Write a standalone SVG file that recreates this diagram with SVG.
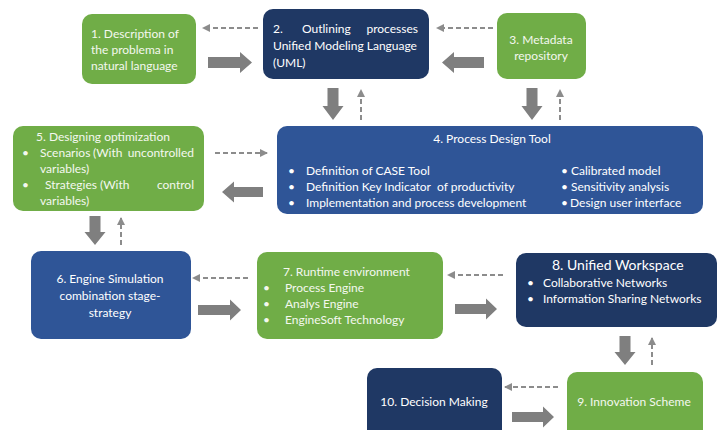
<svg xmlns="http://www.w3.org/2000/svg" width="718" height="430" viewBox="0 0 718 430">
<style>
.green{fill:#70ad47}
.navy{fill:#1f3864}
.blue{fill:#2f5597}
text{font-family:Lato,"Open Sans","Liberation Sans",sans-serif;font-size:12px;fill:#ffffff}
.g text{fill:#f4f8ef}
.c{text-anchor:middle}
.e{text-anchor:end}
.big{font-size:14px}
.thick{fill:#7f7f7f}
.dash{stroke:#8c8c8c;stroke-width:2;stroke-dasharray:5 3;fill:none;marker-end:url(#ah)}
</style>
<defs>
<marker id="ah" viewBox="0 0 8 8" refX="7" refY="4" markerWidth="4" markerHeight="4" orient="auto" markerUnits="strokeWidth">
<path d="M0,0 L8,4 L0,8 Z" fill="#8c8c8c"/>
</marker>
</defs>
<rect width="718" height="430" fill="#ffffff"/>

<g id="node1" class="g">
<rect class="green" x="82" y="14" width="114" height="70" rx="10"/>
<text x="91" y="38">1. Description of</text>
<text x="91" y="54">the problema in</text>
<text x="91" y="70">natural language</text>
</g>

<g id="node2">
<rect class="navy" x="263" y="9" width="166" height="70" rx="10"/>
<text x="273" y="33">2.</text>
<text x="302" y="33">Outlining</text>
<text class="e" x="418" y="33">processes</text>
<text x="273" y="50">Unified Modeling Language</text>
<text x="273" y="67">(UML)</text>
</g>

<g id="node3" class="g">
<rect class="green" x="497" y="13" width="89" height="66" rx="10"/>
<text class="c" x="541" y="44">3. Metadata</text>
<text class="c" x="541" y="60">repository</text>
</g>

<g id="node4">
<rect class="blue" x="277" y="126" width="426" height="88" rx="10"/>
<text class="c" x="492" y="143">4. Process Design Tool</text>
<text x="288" y="175">•</text>
<text x="306" y="175">Definition of CASE Tool</text>
<text x="288" y="191">•</text>
<text x="306" y="191">Definition Key Indicator</text>
<text x="437" y="191">of productivity</text>
<text x="288" y="207">•</text>
<text x="306" y="207">Implementation and process development</text>
<text x="561" y="175">•</text>
<text x="571" y="175">Calibrated model</text>
<text x="561" y="191">•</text>
<text x="571" y="191">Sensitivity analysis</text>
<text x="561" y="207">•</text>
<text x="570" y="207">Design user interface</text>
</g>

<g id="node5" class="g">
<rect class="green" x="13" y="126" width="191" height="85" rx="10"/>
<text class="c" x="103" y="141">5. Designing optimization</text>
<text x="22" y="157">•</text>
<text x="40" y="157">Scenarios</text>
<text x="93" y="157">(With</text>
<text class="e" x="194" y="157">uncontrolled</text>
<text x="40" y="173">variables)</text>
<text x="22" y="189">•</text>
<text x="45" y="189">Strategies</text>
<text x="100" y="189">(With</text>
<text class="e" x="194" y="189">control</text>
<text x="40" y="205">variables)</text>
</g>

<g id="node6">
<rect class="blue" x="31" y="251" width="160" height="88" rx="10"/>
<text class="c" x="110" y="283">6. Engine Simulation</text>
<text class="c" x="110" y="300">combination stage-</text>
<text class="c" x="110" y="317">strategy</text>
</g>

<g id="node7" class="g">
<rect class="green" x="257" y="252" width="186" height="87" rx="10"/>
<text x="283" y="276">7. Runtime environment</text>
<text x="263" y="292">•</text>
<text x="285" y="292">Process Engine</text>
<text x="263" y="308">•</text>
<text x="285" y="308">Analys Engine</text>
<text x="263" y="324">•</text>
<text x="285" y="324">EngineSoft Technology</text>
</g>

<g id="node8">
<rect class="navy" x="516" y="253" width="201" height="74" rx="10"/>
<text class="big" x="552" y="270">8. Unified Workspace</text>
<text x="527" y="287">•</text>
<text x="543" y="287">Collaborative Networks</text>
<text x="527" y="303">•</text>
<text x="543" y="303">Information Sharing Networks</text>
</g>

<g id="node9" class="g">
<rect class="green" x="567" y="372" width="136" height="72" rx="10"/>
<text class="c" x="634" y="406">9. Innovation Scheme</text>
</g>

<g id="node10">
<rect class="navy" x="367" y="368" width="135" height="72" rx="10"/>
<text class="c" x="434" y="406">10. Decision Making</text>
</g>

<g id="connectors">
<polygon class="thick" points="208,57 240,57 240,52 252,62.5 240,73 240,68 208,68"/>
<polygon class="thick" points="484,57 454,57 454,52 442,62.5 454,73 454,68 484,68"/>
<polygon class="thick" points="263,187 234,187 234,181.5 222,192 234,202.5 234,197 263,197"/>
<polygon class="thick" points="198,305 230,305 230,299.5 241,310 230,320.5 230,315 198,315"/>
<polygon class="thick" points="455,304 486,304 486,298.5 497,309 486,319.5 486,314 455,314"/>
<polygon class="thick" points="512,412 543,412 543,406.5 554,417 543,427.5 543,422 512,422"/>
<polygon class="thick" points="327.5,88 338.5,88 338.5,106 343.5,106 333,120 322.5,106 327.5,106"/>
<polygon class="thick" points="526.5,88 537.5,88 537.5,106 542.5,106 532,120 521.5,106 526.5,106"/>
<polygon class="thick" points="89.5,216 100.5,216 100.5,232 105.5,232 95,245 84.5,232 89.5,232"/>
<polygon class="thick" points="619.5,336 630.5,336 630.5,352 635.5,352 625,365 614.5,352 619.5,352"/>
<line class="dash" x1="258" y1="28" x2="203" y2="28"/>
<line class="dash" x1="493" y1="28" x2="437" y2="28"/>
<line class="dash" x1="215" y1="153" x2="267" y2="153"/>
<line class="dash" x1="248" y1="278" x2="193" y2="278"/>
<line class="dash" x1="503" y1="275" x2="448" y2="275"/>
<line class="dash" x1="558" y1="387" x2="505" y2="387"/>
<line class="dash" x1="361" y1="120" x2="361" y2="90"/>
<line class="dash" x1="560" y1="120" x2="560" y2="90"/>
<line class="dash" x1="121" y1="245" x2="121" y2="218"/>
<line class="dash" x1="652" y1="365" x2="652" y2="338"/>
</g>
</svg>
